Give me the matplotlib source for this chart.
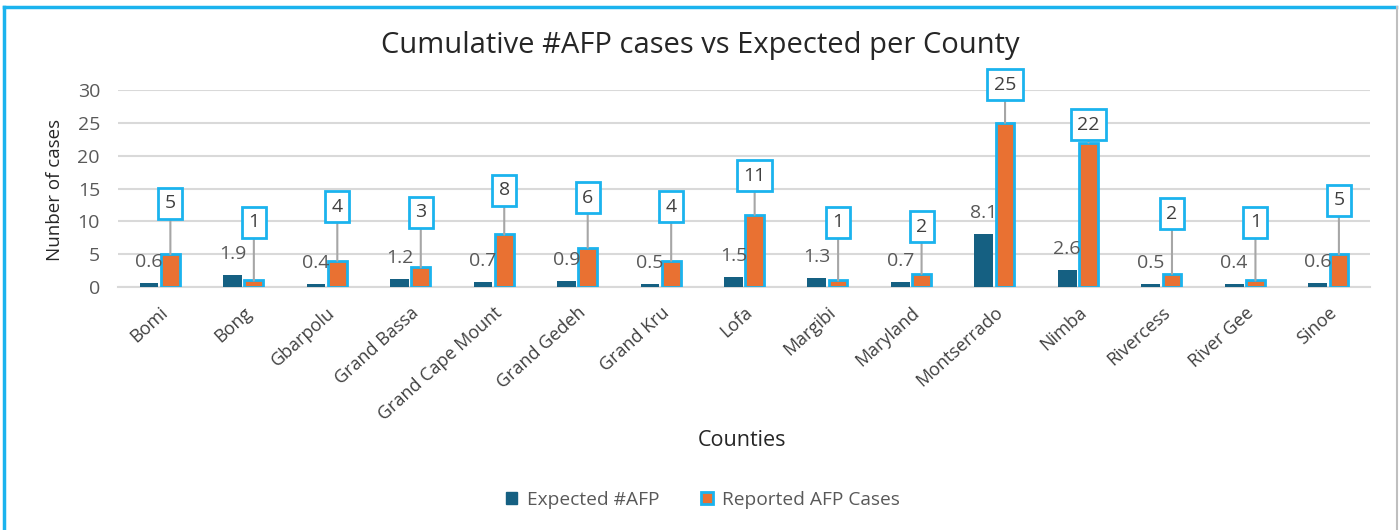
import matplotlib
matplotlib.use("Agg")
import matplotlib.pyplot as plt
from matplotlib.lines import Line2D
from matplotlib.patches import Patch
import numpy as np

counties = ["Bomi", "Bong", "Gbarpolu", "Grand Bassa", "Grand Cape Mount",
            "Grand Gedeh", "Grand Kru", "Lofa", "Margibi", "Maryland",
            "Montserrado", "Nimba", "Rivercess", "River Gee", "Sinoe"]
expected = [0.6, 1.9, 0.4, 1.2, 0.7, 0.9, 0.5, 1.5, 1.3, 0.7, 8.1, 2.6, 0.5, 0.4, 0.6]
reported = [5, 1, 4, 3, 8, 6, 4, 11, 1, 2, 25, 22, 2, 1, 5]

# callout offsets (pixels above bar top) - layout only
callout_px = [51, 58, 54, 55, 44, 50, 54, 39, 58, 47, 38, 18, 60, 58, 54]

plt.rcParams['font.family'] = ['Open Sans', 'DejaVu Sans']

C_EXP = "#156082"
C_REP = "#E97132"
C_EDGE = "#1BB3EE"
C_GRID = "#D9D9D9"
C_TXT = "#595959"

fig = plt.figure(figsize=(14, 5.3), dpi=100)
ax = fig.add_axes([118/1400, 1-287/530, (1370-118)/1400, (287-90)/530])

x = np.arange(len(counties))
w = 0.225
gap = 0.03
ax.bar(x - w/2 - gap/2, expected, width=w, color=C_EXP, zorder=3)
ax.bar(x + w/2 + gap/2, reported, width=w, color=C_REP, edgecolor=C_EDGE,
       linewidth=2, zorder=3)

px2pt = 72/100
for xi, v in zip(x, expected):
    ax.annotate(f"{v}", xy=(xi - w/2 - gap/2, v), xytext=(0, 21*px2pt),
                textcoords='offset points', ha='center', va='center',
                fontsize=14, color=C_TXT, zorder=5)
for xi, v, off in zip(x, reported, callout_px):
    ax.annotate(f"{v}", xy=(xi + w/2 + gap/2, v), xytext=(0, off*px2pt),
                textcoords='offset points', ha='center', va='center',
                fontsize=14, color="#404040", zorder=6,
                bbox=dict(boxstyle='square,pad=0.33', fc='white', ec=C_EDGE, lw=2),
                arrowprops=dict(arrowstyle='-', color='#A6A6A6', lw=1.5,
                                shrinkA=0, shrinkB=0))

ax.set_xlim(-0.5, len(counties) - 0.5)
ax.set_ylim(0, 30)
ax.set_yticks([0, 5, 10, 15, 20, 25, 30])
ax.yaxis.grid(True, color=C_GRID, lw=1.5, zorder=0)
ax.set_axisbelow(True)
for s in ['top', 'right', 'left']:
    ax.spines[s].set_visible(False)
ax.spines['bottom'].set_color(C_GRID)
ax.spines['bottom'].set_linewidth(1.5)
ax.tick_params(axis='both', length=0)
ax.tick_params(axis='y', labelsize=14, labelcolor=C_TXT, pad=13)
ax.set_xticks(x)
ax.set_xticklabels(counties, rotation=42, ha='right', rotation_mode='anchor',
                   fontsize=13, color="#404040")
ax.tick_params(axis='x', pad=12)

fig.text(0.5, 1-45/530, "Cumulative #AFP cases vs Expected per County",
         ha='center', va='center', fontsize=21, color="#262626")
fig.text(55/1400, 1-190/530, "Nunber of cases", rotation=90, ha='center',
         va='center', fontsize=13.5, color="#262626")
fig.text(742/1400, 1-441/530, "Counties", ha='center', va='center',
         fontsize=15.5, color="#262626")

handles = [Patch(facecolor=C_EXP, edgecolor=C_EXP),
           Patch(facecolor=C_REP, edgecolor=C_EDGE, linewidth=2)]
fig.legend(handles, ["Expected #AFP", "Reported AFP Cases"], ncol=2,
           loc='center', bbox_to_anchor=(703/1400, 1-500/530), frameon=False,
           fontsize=13.8, handlelength=0.6, handleheight=0.6, columnspacing=2.2,
           handletextpad=0.5, labelcolor=C_TXT)

# figure border
fig.add_artist(Line2D([4/1400, 1396/1400], [1-7/530, 1-7/530], color=C_EDGE, lw=2.5))
fig.add_artist(Line2D([4/1400, 4/1400], [0, 1-7/530], color=C_EDGE, lw=2.5))
fig.add_artist(Line2D([1397/1400, 1397/1400], [0, 1-7/530], color="#BFBFBF", lw=1.5))

fig.savefig("out.png", dpi=100)
